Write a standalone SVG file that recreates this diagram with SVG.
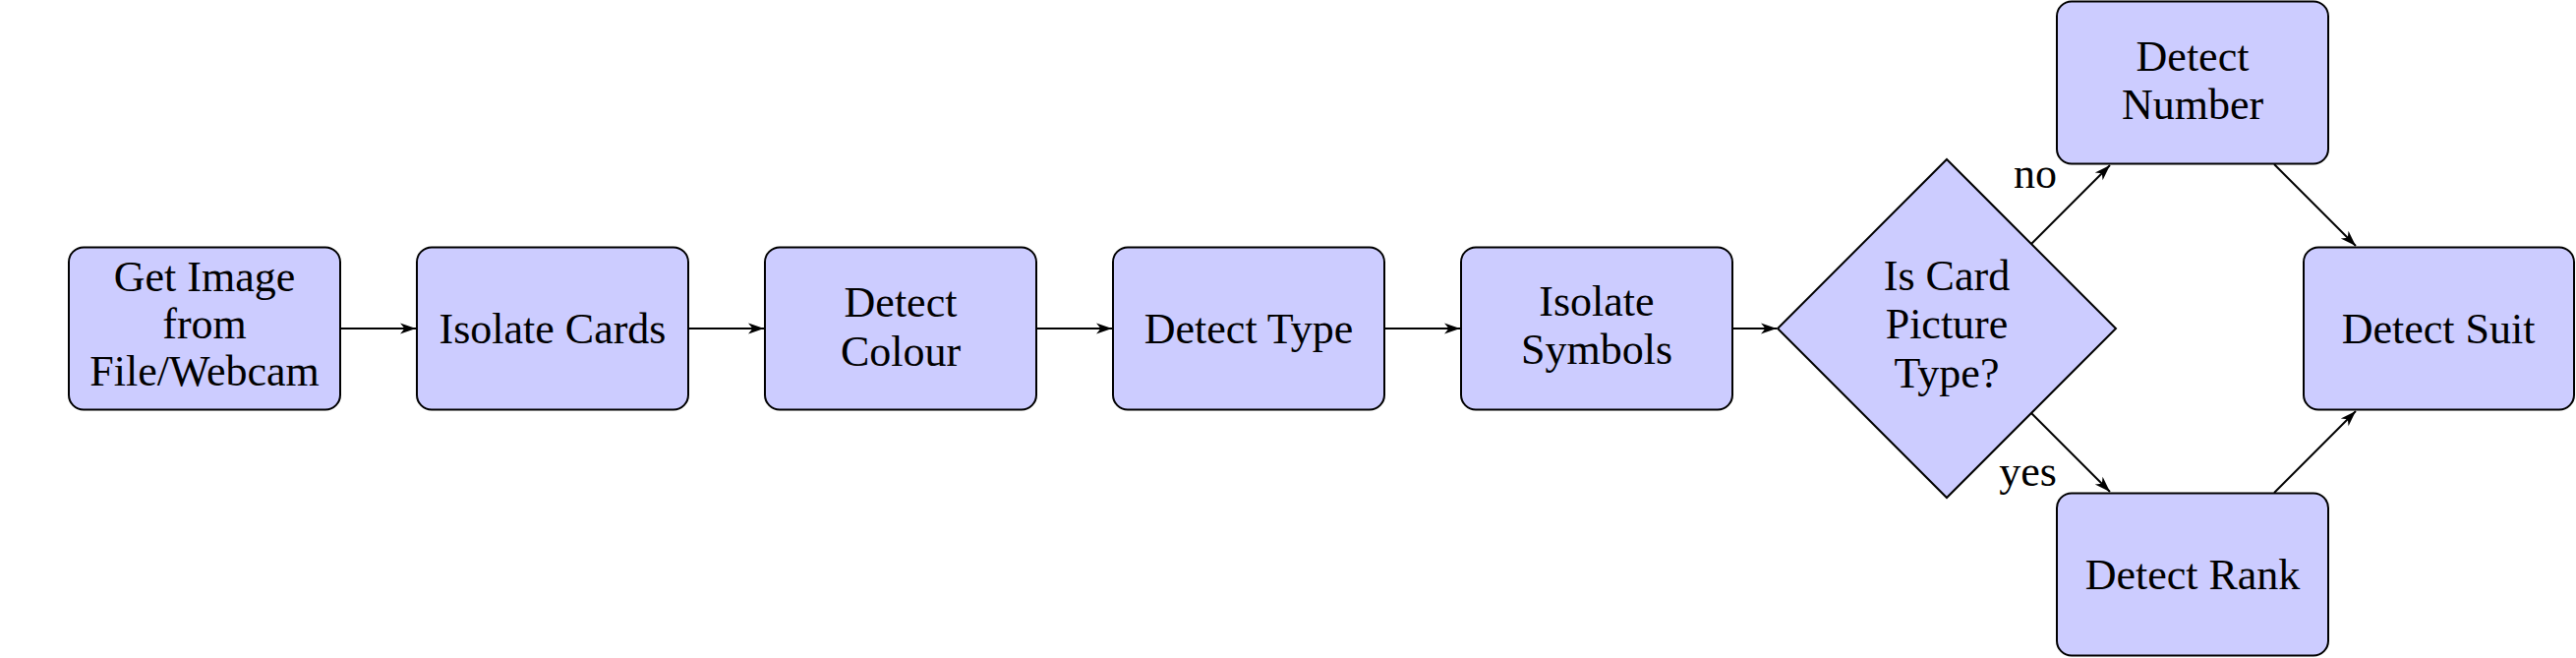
<svg xmlns="http://www.w3.org/2000/svg" width="2620" height="669" viewBox="0 0 2620 669">
<style>
.box{fill:#CCCCFF;stroke:#000;stroke-width:2}
.t{font-family:"Liberation Serif","DejaVu Serif",serif;font-size:44px;fill:#000;text-anchor:middle}
.lbl{font-family:"Liberation Serif","DejaVu Serif",serif;font-size:44px;fill:#000;text-anchor:end}
.e{stroke:#000;stroke-width:2;fill:none;marker-end:url(#ah)}
</style>
<defs>
<marker id="ah" markerUnits="userSpaceOnUse" markerWidth="20" markerHeight="14" viewBox="-17 -7 20 14" refX="0" refY="0" orient="auto">
<path d="M0,0 L-16,-5.5 L-11.5,0 L-16,5.5 Z" fill="#000"/>
</marker>
</defs>
<rect width="2620" height="669" fill="#fff"/>
<g id="connectors">
<line class="e" x1="346" y1="334" x2="423" y2="334"/>
<line class="e" x1="700" y1="334" x2="777" y2="334"/>
<line class="e" x1="1054" y1="334" x2="1131" y2="334"/>
<line class="e" x1="1408" y1="334" x2="1485" y2="334"/>
<line class="e" x1="1762" y1="334" x2="1807" y2="334"/>
<line class="e" x1="2066" y1="248" x2="2146" y2="168"/>
<line class="e" x1="2066" y1="420" x2="2146" y2="500"/>
<line class="e" x1="2313" y1="167" x2="2396" y2="250"/>
<line class="e" x1="2313" y1="501" x2="2396" y2="418"/>
<text class="lbl" x="2092" y="191">no</text>
<text class="lbl" x="2092" y="494">yes</text>
</g>
<g id="n1">
<rect class="box" x="70" y="251.5" width="276" height="165" rx="15"/>
<text class="t" x="208" y="296">Get Image</text>
<text class="t" x="208" y="344">from</text>
<text class="t" x="208" y="392">File/Webcam</text>
</g>
<g id="n2">
<rect class="box" x="424" y="251.5" width="276" height="165" rx="15"/>
<text class="t" x="562" y="349">Isolate Cards</text>
</g>
<g id="n3">
<rect class="box" x="778" y="251.5" width="276" height="165" rx="15"/>
<text class="t" x="916" y="322">Detect</text>
<text class="t" x="916" y="372">Colour</text>
</g>
<g id="n4">
<rect class="box" x="1132" y="251.5" width="276" height="165" rx="15"/>
<text class="t" x="1270" y="349">Detect Type</text>
</g>
<g id="n5">
<rect class="box" x="1486" y="251.5" width="276" height="165" rx="15"/>
<text class="t" x="1624" y="321">Isolate</text>
<text class="t" x="1624" y="370">Symbols</text>
</g>
<g id="decision">
<polygon class="box" points="1980,162 2152,334 1980,506 1808,334"/>
<text class="t" x="1980" y="295">Is Card</text>
<text class="t" x="1980" y="344">Picture</text>
<text class="t" x="1980" y="394">Type?</text>
</g>
<g id="number">
<rect class="box" x="2092" y="1.5" width="276" height="165" rx="15"/>
<text class="t" x="2230" y="72">Detect</text>
<text class="t" x="2230" y="121">Number</text>
</g>
<g id="rank">
<rect class="box" x="2092" y="501.5" width="276" height="165" rx="15"/>
<text class="t" x="2230" y="599">Detect Rank</text>
</g>
<g id="suit">
<rect class="box" x="2343" y="251.5" width="275" height="165" rx="15"/>
<text class="t" x="2480" y="349">Detect Suit</text>
</g>
</svg>
